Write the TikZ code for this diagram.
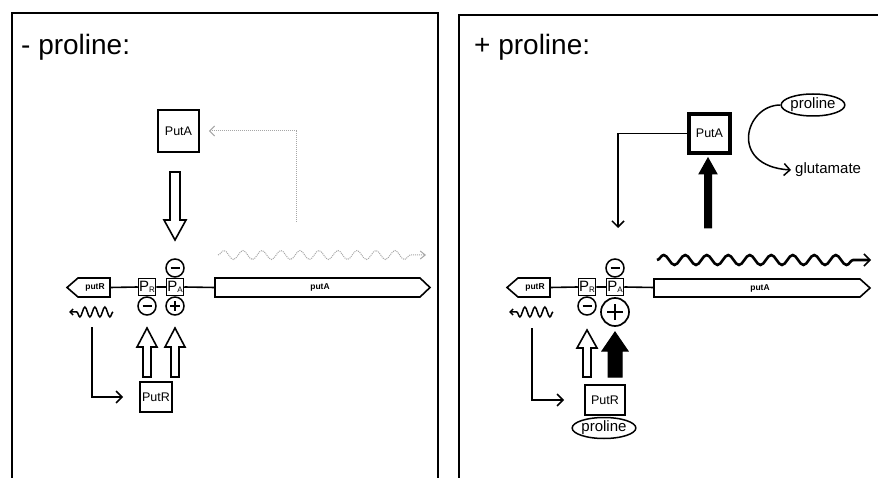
\documentclass[tikz,border=0pt]{standalone}
\usepackage{fontspec}
\setmainfont{Liberation Sans}
\usetikzlibrary{arrows.meta,decorations.pathmorphing,shapes.geometric}
\newcommand\promR{{\fontsize{15}{15}\selectfont P}\raisebox{-1pt}{\fontsize{8}{8}\selectfont R}}
\newcommand\promA{{\fontsize{15}{15}\selectfont P}\raisebox{-1pt}{\fontsize{8}{8}\selectfont A}}
\begin{document}
\begin{tikzpicture}[x=1pt,y=-1pt,
  panel/.style={line width=2.8pt},
  titletext/.style={font=\fontsize{28}{30}\selectfont,inner sep=0pt},
  box/.style={draw,line width=1.8pt,inner sep=0pt,font=\fontsize{12.5}{13}\selectfont},
  prom/.style={draw,line width=1.5pt,minimum size=17pt,inner sep=0pt},
  gene/.style={draw,line width=1.6pt,fill=white},
  genetext/.style={font=\fontsize{8.5}{9}\selectfont\bfseries,inner sep=0pt},
  dna/.style={line width=1.6pt},
  sign/.style={circle,draw,line width=1.5pt,minimum size=18pt,inner sep=0pt},
  signminus/.style={sign,path picture={\draw[line width=2.2pt]
     ([xshift=-4.5pt]path picture bounding box.center) -- ([xshift=4.5pt]path picture bounding box.center);}},
  signplus/.style={sign,path picture={\draw[line width=2.2pt]
     ([xshift=-5pt]path picture bounding box.center) -- ([xshift=5pt]path picture bounding box.center)
     ([yshift=-5pt]path picture bounding box.center) -- ([yshift=5pt]path picture bounding box.center);}},
  bigplus/.style={sign,line width=1.7pt,minimum size=28pt,path picture={\draw[line width=2.6pt]
     ([xshift=-8pt]path picture bounding box.center) -- ([xshift=8pt]path picture bounding box.center)
     ([yshift=-8pt]path picture bounding box.center) -- ([yshift=8pt]path picture bounding box.center);}},
  conn/.style={line width=1.5pt},
  tipopen/.style={-{Straight Barb[length=6pt,width=12pt,line width=1.5pt]}},
  blockopen/.style={draw,line width=1.6pt,fill=white,line join=miter},
  blockfill/.style={draw,line width=1pt,fill=black},
  smallwave/.style={line width=1.5pt,-{Straight Barb[length=3pt,width=6pt]},decorate,
     decoration={snake,segment length=10pt,amplitude=5pt,post length=6pt}},
  ellipsetext/.style={ellipse,draw,line width=1.5pt,inner sep=0pt,font=\fontsize{15}{16}\selectfont},
]
\useasboundingbox (0,0) rectangle (878,478);

% ================= LEFT PANEL =================
\draw[panel] (12,478) -- (12,13) -- (438,13) -- (438,478);
\node[titletext,anchor=base west] (titleL) at (21,55) {- proline:};

\draw[gene] (67,287.5) -- (78,278) -- (110,278) -- (110,297) -- (78,297) -- cycle;
\node[genetext] (putRL) at (95,287.5) {putR};
\coordinate (rEndL) at (110,287.5);
\draw[gene] (215,278) -- (420,278) -- (430,287.5) -- (420,297) -- (215,297) -- cycle;
\node[genetext] (putAL) at (320,287.5) {putA};
\coordinate (aStartL) at (215,287.5);

\node[prom] (prL) at (147,287) {\promR};
\node[prom] (paL) at (175,287) {\promA};
\draw[dna] (rEndL) -- (prL.west) (prL.east) -- (paL.west) (paL.east) -- (aStartL);

\node[signminus] (mAL) at (175,268) {};
\node[signminus] (mRL) at (147,306) {};
\node[signplus] (pAL) at (175,306) {};

\coordinate (wsL) at (113,312);
\coordinate (weL) at (69,312);
\draw[smallwave] (wsL) -- (weL);

\node[box,minimum width=32pt,minimum height=30pt] (PutRL) at (156,397) {PutR};
\coordinate (lsL) at (92,327);
\draw[conn,tipopen] (lsL) |- ([xshift=-16pt]PutRL.west);

% open up arrows
\draw[blockopen] (143,377) -- (143,347) -- (137,347) -- (147,328) -- (157,347) -- (151,347) -- (151,377) -- cycle;
\draw[blockopen] (171,377) -- (171,347) -- (165,347) -- (175,328) -- (185,347) -- (179,347) -- (179,377) -- cycle;

\node[box,minimum width=41pt,minimum height=42pt] (PutAL) at (178.5,131) {PutA};
% open down arrow
\draw[blockopen] (170,172) -- (170,220) -- (164,220) -- (175,240) -- (186,220) -- (180,220) -- (180,172) -- cycle;

\coordinate (gsL) at (296,222);
\draw[gray!70,line width=1pt,densely dotted,-{Straight Barb[length=5pt,width=10pt]}]
  (gsL) |- ([xshift=9pt]PutAL.east);
\coordinate (gwsL) at (218,255);
\coordinate (gweL) at (426,255);
\draw[gray!70,line width=1pt,densely dotted,-{Straight Barb[length=5pt,width=8pt]},decorate,
  decoration={snake,segment length=19pt,amplitude=4.5pt,post length=12pt}] (gwsL) -- (gweL);

% ================= RIGHT PANEL =================
\draw[panel] (459,478) -- (459,15) -- (878,15);
\node[titletext,anchor=base west] (titleR) at (474,55) {+ proline:};

\draw[gene] (507,287.5) -- (518,278) -- (550,278) -- (550,297) -- (518,297) -- cycle;
\node[genetext] (putRR) at (535,287.5) {putR};
\coordinate (rEndR) at (550,287.5);
\draw[gene] (654,279) -- (860,279) -- (870,288) -- (860,297) -- (654,297) -- cycle;
\node[genetext] (putAR) at (760,288) {putA};
\coordinate (aStartR) at (654,287.5);

\node[prom] (prR) at (587,287) {\promR};
\node[prom] (paR) at (615,287) {\promA};
\draw[dna] (rEndR) -- (prR.west) (prR.east) -- (paR.west) (paR.east) -- (aStartR);

\node[signminus] (mAR) at (615,268) {};
\node[signminus] (mRR) at (587,306) {};
\node[bigplus] (pAR) at (615,312) {};

\coordinate (wsR) at (553,312);
\coordinate (weR) at (509,312);
\draw[smallwave] (wsR) -- (weR);

\node[box,minimum width=40pt,minimum height=30pt] (PutRR) at (605,400) {PutR};
\node[ellipsetext,minimum width=55pt,minimum height=21pt] (prolR1) at (604,428) {proline};
\coordinate (lsR) at (532,328);
\draw[conn,tipopen] (lsR) |- ([xshift=-20pt]PutRR.west);

% open & filled up arrows
\draw[blockopen] (583,377) -- (583,348) -- (577,348) -- (587,330) -- (597,348) -- (591,348) -- (591,377) -- cycle;
\draw[blockfill] (608,377) -- (608,351) -- (602,351) -- (615,332) -- (628,351) -- (622,351) -- (622,377) -- cycle;

\node[box,line width=4pt,minimum width=41pt,minimum height=39pt] (PutAR) at (709.5,133.5) {PutA};
\coordinate (dnR) at (618,228);
\draw[conn,tipopen] (PutAR.west) -| (dnR);
% thick arrow up
\draw[blockfill] (704.5,228) -- (704.5,174) -- (699,174) -- (708,158) -- (717,174) -- (711.5,174) -- (711.5,228) -- cycle;

\node[ellipsetext,minimum width=57pt,minimum height=22pt] (prolR2) at (813,105) {proline};
\node[font=\fontsize{15}{16}\selectfont,anchor=west,inner sep=0pt] (glu) at (795,170) {glutamate};
\draw[conn,tipopen] (prolR2.west) .. controls (745,105) and (728,166) .. ([xshift=-4pt]glu.west);

\coordinate (wvsR) at (657,260);
\coordinate (wveR) at (871,260);
\draw[line width=2.6pt,-{Straight Barb[length=6pt,width=12pt,line width=1.5pt]},decorate,
  decoration={snake,segment length=21.5pt,amplitude=5pt,post length=14pt}] (wvsR) -- (wveR);
\end{tikzpicture}
\end{document}
